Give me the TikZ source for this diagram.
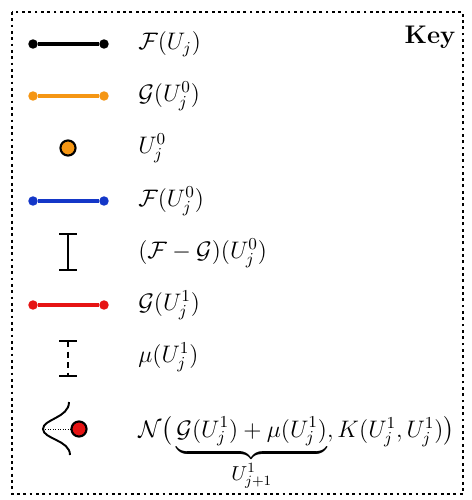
\RequirePackage{fix-cm}
\documentclass[tikz,border=0pt]{standalone}
\usepackage{amsmath, amssymb}
\usetikzlibrary{positioning}
\definecolor{keyorange}{RGB}{245,150,20}
\definecolor{keyblue}{RGB}{20,55,200}
\definecolor{keyred}{RGB}{230,20,20}
\tikzset{
  keyline/.style={line width=2.1pt},
  enddot/.style={circle, fill, inner sep=0pt, minimum size=5.4pt},
  bigdot/.style={circle, draw=black, line width=1.2pt, inner sep=0pt, minimum size=8.6pt},
  errbar/.style={line width=1.2pt},
  keylabel/.style={anchor=west, inner sep=0pt, font=\fontsize{13.6}{16}\selectfont}
}

\begin{document}
\begin{tikzpicture}[x=0.02cm, y=-0.02cm]
  \useasboundingbox (0,0) rectangle (471,500);
  \draw[line width=1.6pt, dotted] (12,12) rectangle (463,494);
  \node[font=\fontsize{14.5}{17}\selectfont\bfseries] (key) at (430,37) {Key};

  % solid legend lines
  \foreach \name/\col/\yy in {fu/black/44, gu/keyorange/96, fz/keyblue/201, gone/keyred/305} {
    \node[enddot, text=\col, fill=\col] (\name a) at (33,\yy) {};
    \node[enddot, fill=\col] (\name b) at (104,\yy) {};
    \draw[keyline, \col] (\name a) -- (\name b);
  }
  \node[bigdot, fill=keyorange] (uzero) at (68,148) {};

  % error bars
  \coordinate (diffa) at (68,234);
  \coordinate (diffb) at (68,270);
  \draw[errbar] (diffa) -- (diffb);
  \draw[errbar] ([xshift=-5pt]diffa) -- ([xshift=5pt]diffa);
  \draw[errbar] ([xshift=-5pt]diffb) -- ([xshift=5pt]diffb);
  \coordinate (mua) at (68,341);
  \coordinate (mub) at (68,376);
  \draw[errbar, dash pattern=on 3.5pt off 2.5pt] (mua) -- (mub);
  \draw[errbar] ([xshift=-5pt]mua) -- ([xshift=5pt]mua);
  \draw[errbar] ([xshift=-5pt]mub) -- ([xshift=5pt]mub);

  % gaussian
  \coordinate (tip) at (43,429);
  \node[bigdot, fill=keyred] (gdot) at (79,429) {};
  \draw[line width=1.1pt] (69,402) .. controls (69,418) and (43,419) .. (tip)
    .. controls (43,439) and (70,440) .. (70,455);
  \draw[densely dotted, thin] (tip) -- (gdot);

  % labels
  \node[keylabel] (lfu) at (138,44) {$\mathcal{F}(U_j)$};
  \node[keylabel] (lgu) at (138,96) {$\mathcal{G}(U_j^0)$};
  \node[keylabel] (luz) at (138,148) {$U_j^0$};
  \node[keylabel] (lfz) at (138,201) {$\mathcal{F}(U_j^0)$};
  \node[keylabel] (ldiff) at (138,253) {$(\mathcal{F}-\mathcal{G})(U_j^0)$};
  \node[keylabel] (lgone) at (138,305) {$\mathcal{G}(U_j^1)$};
  \node[keylabel] (lmu) at (138,357) {$\mu(U_j^1)$};
  \node[keylabel, anchor=base west] (lnorm) at (138,437)
    {$\mathcal{N}\big(\underbrace{\mathcal{G}(U_j^1)+\mu(U_j^1)}_{\mbox{\fontsize{11.5}{13}\selectfont$U_{j+1}^1$}},K(U_j^1,U_j^1)\big)$};
\end{tikzpicture}
\end{document}
